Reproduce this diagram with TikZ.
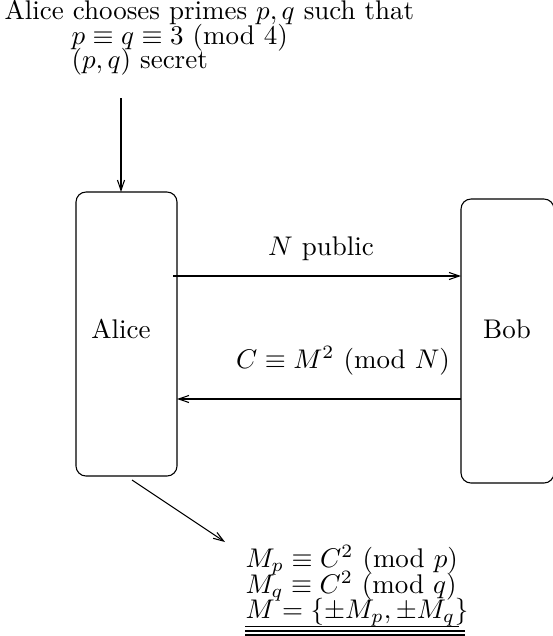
\documentclass[tikz,border=0pt]{standalone}
\usetikzlibrary{arrows.meta}
\begin{document}
\begin{tikzpicture}[x=0.3704pt,y=-0.3704pt,
  party/.style={draw,rounded corners=3.7pt},
  msg/.style={-{Straight Barb[length=3.8pt,width=2.6pt]}},
  txt/.style={inner sep=0pt,anchor=base west},
  lbl/.style={inner sep=0pt,anchor=base}]
\useasboundingbox (0,0) rectangle (553,636);
% boxes
\draw[party] (76,192) rectangle (177,476);
\draw[party] (461,199) rectangle (554,483);
\node[lbl] (alice) at (121,338) {Alice};
\node[lbl] (bob) at (507,338) {Bob};
\coordinate (aliceT) at (121,192);
\coordinate (aliceR1) at (173,276);
\coordinate (bobL1) at (461,276);
\coordinate (bobL2) at (461,399);
\coordinate (aliceR2) at (177,399);
\coordinate (aliceB) at (132,480);
% top text
\node[txt] (t1) at (4,19) {Alice chooses primes $p,q$ such that};
\node[txt] (t2) at (71,44) {$p\equiv q\equiv 3\ (\mathrm{mod}\ 4)$};
\node[txt] (t3) at (71,68) {$(p,q)$ secret};
\coordinate (topS) at (121,98);
\draw[msg] (topS) -- (aliceT);
% messages
\draw[msg] (aliceR1) -- (bobL1);
\node[lbl] (nlabel) at (321,255) {$N$ public};
\draw[msg] (bobL2) -- (aliceR2);
\node[lbl] (clabel) at (343,368) {$C\equiv M^2\ (\mathrm{mod}\ N)$};
% bottom
\node[txt] (b1) at (245,567) {$M_p\equiv C^2\ (\mathrm{mod}\ p)$};
\node[txt] (b2) at (245,593) {$M_q\equiv C^2\ (\mathrm{mod}\ q)$};
\node[txt] (b3) at (245,618) {$M=\{\pm M_p,\pm M_q\}$};
\coordinate (bArr) at (225,542);
\draw[msg] (aliceB) -- (bArr);
\draw (245,626.5) -- (459,626.5);
\draw (245,631) -- (465,631);
\draw (245,635) -- (465,635);
\end{tikzpicture}
\end{document}
